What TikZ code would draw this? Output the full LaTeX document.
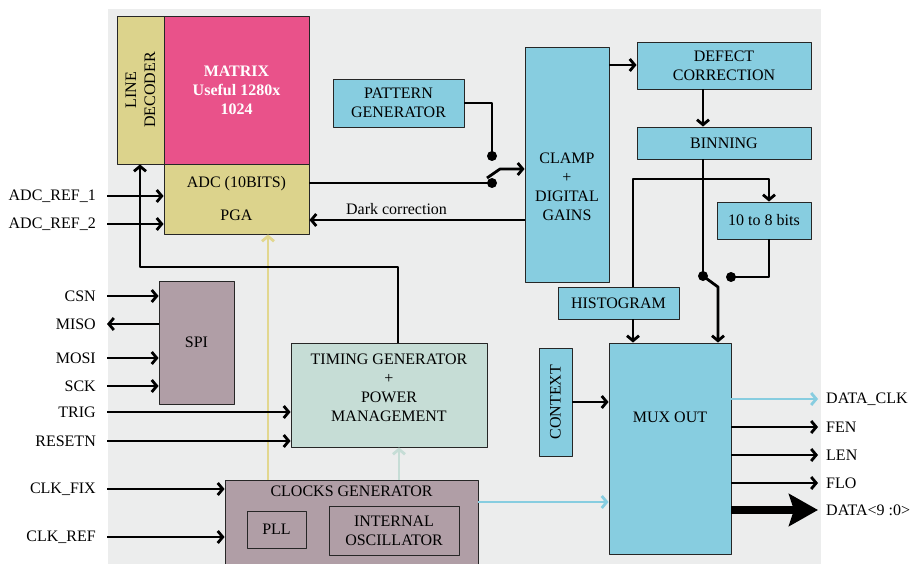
\documentclass[tikz,border=0pt]{standalone}
\usepackage{fontspec}
\setmainfont{Liberation Serif}
\usetikzlibrary{arrows.meta}
\definecolor{bgc}{HTML}{ECEDED}
\definecolor{matc}{HTML}{E9528A}
\definecolor{adcc}{HTML}{DCD38C}
\definecolor{bluc}{HTML}{87CDE0}
\definecolor{spic}{HTML}{B09EA6}
\definecolor{timc}{HTML}{C6DDD6}
\definecolor{yelc}{HTML}{E2D78F}
\tikzset{
  box/.style={draw=black!85,line width=0.9pt,inner sep=0pt,align=center},
  wire/.style={line width=2.8pt},
  inlab/.style={anchor=east,inner xsep=11pt,inner ysep=1pt},
  outlab/.style={anchor=west,inner xsep=8pt,inner ysep=1pt},
  dot/.style={circle,fill=black,inner sep=0pt,minimum size=10pt}
}
\begin{document}
\begin{tikzpicture}[x=1pt,y=-1pt,line join=round,>={Straight Barb[length=5pt,width=12pt]},font=\fontsize{16}{19}\selectfont]
\useasboundingbox (0,0) rectangle (913,564);
\clip (0,0) rectangle (913,564);
%Nen xam
\fill[bgc] (108,9) rectangle (821,570);
%Cac khoi
\node[box,fill=adcc,minimum width=47pt,minimum height=148pt] (dec) at (140.5,90) {};
\node[rotate=90,align=center] at (dec) {LINE\\DECODER};
\node[box,fill=matc,minimum width=145pt,minimum height=148pt,text=white,font=\fontsize{16}{19}\selectfont\bfseries] (mat) at (236.5,90) {MATRIX\\Useful 1280x\\1024};
\node[box,fill=adcc,minimum width=145pt,minimum height=70pt] (adc) at (236.5,199) {ADC (10BITS)\\[14pt]PGA};
\node[box,fill=bluc,minimum width=131pt,minimum height=48pt] (pat) at (398.5,103) {PATTERN\\GENERATOR};
\node[box,fill=bluc,minimum width=84pt,minimum height=235pt] (clamp) at (567,164.5) {};
\node[align=center] at (567,186.5) {CLAMP\\+\\DIGITAL\\GAINS};
\node[box,fill=bluc,minimum width=174pt,minimum height=47pt] (def) at (724,65.5) {DEFECT\\CORRECTION};
\node[box,fill=bluc,minimum width=174pt,minimum height=32pt] (bin) at (724,143) {BINNING};
\node[box,fill=bluc,minimum width=94pt,minimum height=37pt] (bits) at (764,220.5) {10 to 8 bits};
\node[box,fill=bluc,minimum width=121pt,minimum height=32pt] (hist) at (618.5,303) {HISTOGRAM};
\node[box,fill=bluc,minimum width=122pt,minimum height=211pt] (mux) at (670,448.5) {};
\node at (670,417) {MUX OUT};
\node[box,fill=bluc,minimum width=33pt,minimum height=108pt] (ctx) at (555.5,402) {};
\node[rotate=90] at (ctx) {CONTEXT};
\node[box,fill=spic,minimum width=75pt,minimum height=123pt] (spi) at (196.5,342.5) {SPI};
\node[box,fill=timc,minimum width=196pt,minimum height=104pt] (tim) at (389,395) {};
\node[align=center] at (389,388) {TIMING GENERATOR\\+\\POWER\\MANAGEMENT};
\node[box,fill=spic,minimum width=253pt,minimum height=94pt] (clk) at (351.5,527) {};
\node at (351.5,491) {CLOCKS GENERATOR};
\node[box,fill=spic,minimum width=59pt,minimum height=37pt] (pll) at (276.5,529.5) {PLL};
\node[box,fill=spic,minimum width=130pt,minimum height=49pt] (osc) at (394,530.5) {INTERNAL\\OSCILLATOR};
%Nhan vao ra
\node[inlab] (ref1) at (107,196) {ADC\_REF\_1};
\node[inlab] (ref2) at (107,224) {ADC\_REF\_2};
\node[inlab] (csn) at (107,296) {CSN};
\node[inlab] (miso) at (107,324) {MISO};
\node[inlab] (mosi) at (107,358) {MOSI};
\node[inlab] (sck) at (107,386) {SCK};
\node[inlab] (trig) at (107,412) {TRIG};
\node[inlab] (rst) at (107,441) {RESETN};
\node[inlab] (cfix) at (107,489) {CLK\_FIX};
\node[inlab] (cref) at (107,537) {CLK\_REF};
\node[outlab] (dclk) at (818,399) {DATA\_CLK};
\node[outlab] (fen) at (818,427) {FEN};
\node[outlab] (len) at (818,455) {LEN};
\node[outlab] (flo) at (818,483) {FLO};
\node[outlab] (dbus) at (818,510) {DATA<9 :0>};
%Cac diem chuyen mach
\coordinate (swa) at (492,183);
\coordinate (swb) at (492,156);
\coordinate (bsw) at (703,276);
\coordinate (bsw2) at (731,277);
\coordinate (split) at (633,179);
\coordinate (tx) at (769,179);
\coordinate (lev) at (718,287);
\coordinate (fb) at (140,267);
%Day mau
\draw[wire,yelc,->] (clk.north -| 268,0) -- (adc.south -| 268,0);
\draw[wire,timc,->] (clk.north -| 399,0) -- (tim.south -| 399,0);
\draw[wire,bluc,->] (clk.east |- 0,502) -- (mux.west |- 0,502);
\draw[wire,bluc,->] (mux.east |- dclk) -- (dclk.west);
%Day den
\foreach \n/\b in {ref1/adc,ref2/adc,csn/spi,mosi/spi,sck/spi,trig/tim,rst/tim,cfix/clk,cref/clk}
  \draw[wire,->] (\n.east) -- (\n.east -| \b.west);
\draw[wire,->] (spi.west |- miso) -- (miso.east);
\draw[wire,->] (tim.north -| 398,0) |- (fb) -- (fb |- dec.south);
\draw[wire] (adc.east |- swa) -- (swa);
\draw[wire] (pat.east) -| (swb);
\draw[wire,->] (487,178) -- (500,169) -- (clamp.west |- 0,169);
\draw[wire,->] (clamp.west |- 0,220) -- (adc.east |- 0,220) node[pos=0.595,above=1pt] {Dark correction};
\draw[wire,->] (clamp.east |- 0,65) -- (def.west |- 0,65);
\draw[wire,->] (def.south -| bsw) -- (bin.north -| bsw);
\draw[wire] (bin.south -| bsw) -- (bsw);
\draw[wire,->] (split |- hist.north) |- (tx) -- (tx |- bits.north);
\draw[wire] (tx |- bits.south) |- (bsw2);
\draw[wire,->] (bsw) -- (lev) -- (lev |- mux.north);
\draw[wire,->] (hist.south -| split) -- (mux.north -| split);
\draw[wire,->] (ctx.east) -- (ctx.east -| mux.west);
\foreach \n in {fen,len,flo}
  \draw[wire,->] (mux.east |- \n) -- (\n.west);
\draw[line width=8pt,-{Stealth[length=29pt,width=32pt,inset=5pt]}] (mux.east |- dbus) -- (dbus.west);
\foreach \p in {swa,swb,bsw,bsw2} \node[dot] at (\p) {};
\end{tikzpicture}
\end{document}
